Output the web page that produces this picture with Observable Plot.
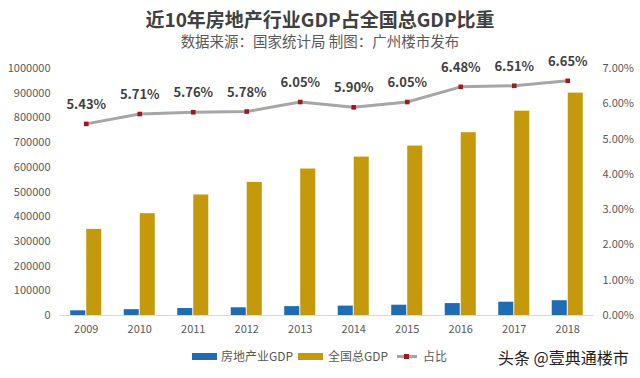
<!DOCTYPE html>
<html>
<head>
<meta charset="utf-8">
<script src="https://cdn.jsdelivr.net/npm/d3@7"></script>
<script src="https://cdn.jsdelivr.net/npm/@observablehq/plot@0.6"></script>
<style>
  html, body { margin: 0; padding: 0; background: #fff; }
  #wrap { position: relative; width: 640px; height: 378px; overflow: hidden; font-family: "Noto Sans CJK SC", "Noto Sans", sans-serif; }
  #title { position: absolute; left: 0; top: 6px; width: 640px; text-align: center; font-size: 19px; font-weight: bold; color: #404040; line-height: 26px; }
  #subtitle { position: absolute; left: 0; top: 31px; width: 640px; text-align: center; font-size: 14.5px; color: #595959; line-height: 20px; }
  #chart { position: absolute; left: 0; top: 52px; }
  .lg { position: absolute; top: 347px; font-size: 12px; color: #595959; line-height: 18px; }
  .sw { position: absolute; top: 353px; height: 7px; }
  #wm { position: absolute; left: 498px; top: 346px; font-size: 16px; color: #222; line-height: 22px; }
</style>
</head>
<body>
<div id="wrap">
  <div id="title">近10年房地产行业GDP占全国总GDP比重</div>
  <div id="subtitle">数据来源：国家统计局 制图：广州楼市发布</div>
  <div id="chart"></div>
  <div class="sw" style="left:192px;width:25px;background:#1f6cb3"></div>
  <div class="lg" style="left:221px">房地产业GDP</div>
  <div class="sw" style="left:298px;width:25px;background:#c5990c"></div>
  <div class="lg" style="left:328px">全国总GDP</div>
  <div style="position:absolute;left:397px;top:355px;width:20px;height:3px;background:#a6a6a6"></div>
  <div style="position:absolute;left:404px;top:354px;width:5px;height:5px;background:#9e1a1f"></div>
  <div class="lg" style="left:423px">占比</div>
  <div id="wm">头条 @壹典通楼市</div>
</div>
<script>
const years = ["2009","2010","2011","2012","2013","2014","2015","2016","2017","2018"];
const realEstateGDP = [18967, 23569, 28168, 31248, 35988, 38001, 41701, 48191, 53851, 59846];
const nationalGDP = [348518, 412119, 487940, 538580, 592963, 641281, 685993, 740061, 827122, 900309];
const ratio = [5.43, 5.71, 5.76, 5.78, 6.05, 5.90, 6.05, 6.48, 6.51, 6.65];
const leftTicks = [0,100000,200000,300000,400000,500000,600000,700000,800000,900000,1000000];
const rightTicks = [0,1,2,3,4,5,6,7];

const leftMax = 1000000, rightMax = 7;
const toLeft = p => p / rightMax * leftMax;

const rows = years.map((y, i) => ({year: y, re: realEstateGDP[i], nat: nationalGDP[i], ratio: ratio[i]}));

const font = "Noto Sans CJK SC, Noto Sans, sans-serif";
const chart = Plot.plot({
  width: 640,
  height: 290,
  marginLeft: 59,
  marginRight: 46,
  marginTop: 16,
  marginBottom: 27,
  style: {fontFamily: font, fontSize: "11px", color: "#595959", background: "transparent"},
  x: {domain: years, paddingInner: 0.42, paddingOuter: 0.21, round: false, label: null},
  y: {domain: [0, leftMax], label: null},
  marks: [
    Plot.axisY({ticks: leftTicks, tickFormat: d => String(d), tickSize: 0, tickPadding: 9, label: null, fill: "#595959", fontSize: 11}),
    Plot.axisY({anchor: "right", ticks: rightTicks.map(toLeft), tickFormat: d => (d / leftMax * rightMax).toFixed(2) + "%", tickSize: 0, tickPadding: 8, label: null, fill: "#595959", fontSize: 11}),
    Plot.axisX({tickSize: 0, tickPadding: 10, label: null, fill: "#595959", fontSize: 11}),
    Plot.barY(rows, {x: "year", y: "re", fill: "#1f6cb3", insetRight: 16}),
    Plot.barY(rows, {x: "year", y: "nat", fill: "#c5990c", insetLeft: 16}),
    Plot.ruleY([0], {stroke: "#d9d9d9", strokeWidth: 1}),
    Plot.line(rows, {x: "year", y: d => toLeft(d.ratio), stroke: "#a6a6a6", strokeWidth: 3}),
    Plot.dot(rows, {x: "year", y: d => toLeft(d.ratio), symbol: "square", r: 2.6, fill: "#9e1a1f", stroke: "none"}),
    Plot.text(rows, {x: "year", y: d => toLeft(d.ratio), text: d => d.ratio.toFixed(2) + "%", dy: -19, fontSize: 13, fontWeight: "bold", fill: "#404040"})
  ]
});
document.getElementById("chart").appendChild(chart);
</script>
</body>
</html>
